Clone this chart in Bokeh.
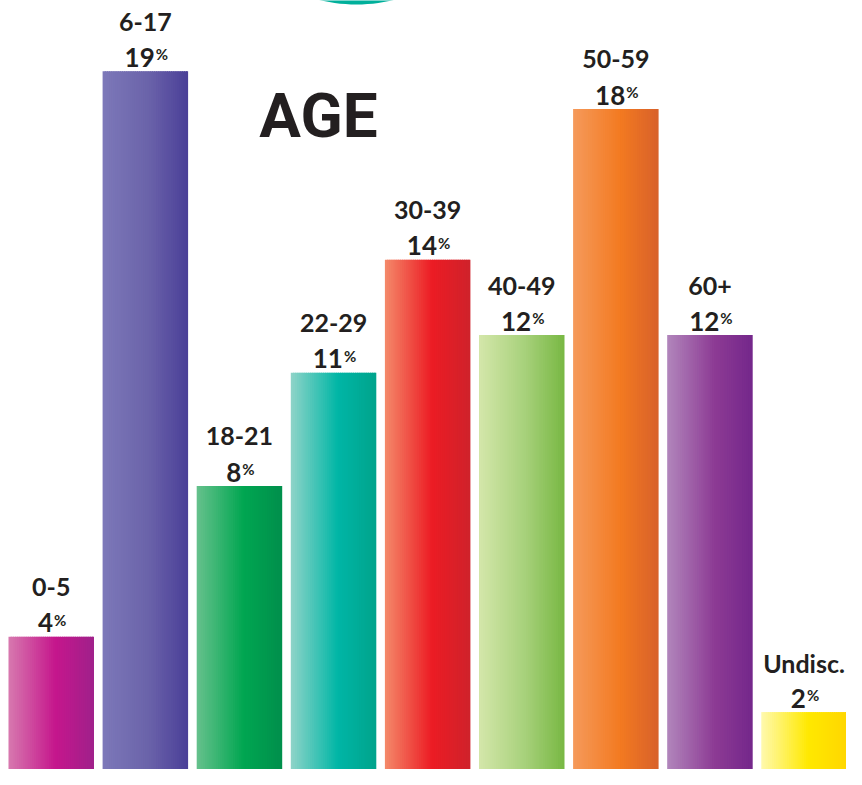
import math
from bokeh.plotting import figure
from bokeh.models import ColumnDataSource, Range1d
from bokeh.core.properties import value
from bokeh.embed import file_html
from bokeh.resources import INLINE

# ---- data ----
categories = ["0-5", "6-17", "18-21", "22-29", "30-39", "40-49", "50-59", "60+", "Undisc."]
percentages = [4, 19, 8, 11, 14, 12, 18, 12, 2]
title_text = "AGE"

# ---- styles ----
bar_gradients = [
    ("#D779AF", "#C5168C", "#A0218B"),
    ("#7D79B9", "#6A62A9", "#4A3F98"),
    ("#66C18C", "#00A651", "#008F4C"),
    ("#8FD4C8", "#00B6A6", "#00A38C"),
    ("#F4896A", "#EC1C24", "#CF222B"),
    ("#D4E7AA", "#A6D07A", "#78B843"),
    ("#F59A5B", "#F37A21", "#D8612A"),
    ("#B186BC", "#8D3B94", "#74278B"),
    ("#FFF9AE", "#FFE900", "#FFD600"),
]
TEXT_COLOR = "#231F20"
LABEL_FONT = value("Lato")
TITLE_FONT = value("Roboto")
BASE_FIX = 0.34  # compensation for baseline placement

W, H = 846, 769
PITCH = 94.1
BAR_PX = 85.5
FIRST_CENTER_PX = 8 + BAR_PX / 2
PX_PER_PCT = 37.7
ZERO_PX = 787  # pixel row of the 0 % line (below the visible area)

x0 = -FIRST_CENTER_PX / PITCH
x_range = Range1d(x0, x0 + W / PITCH)
y_range = Range1d((ZERO_PX - H) / PX_PER_PCT, ZERO_PX / PX_PER_PCT)


def px_to_x(px):
    return (px - FIRST_CENTER_PX) / PITCH


def px_to_y(py):
    return (ZERO_PX - py) / PX_PER_PCT


p = figure(width=W, height=H, x_range=x_range, y_range=y_range,
           output_backend="svg", toolbar_location=None,
           x_axis_location=None, y_axis_location=None,
           min_border=0, outline_line_color=None,
           background_fill_color="white", border_fill_color="white")
p.grid.visible = False


def hex2rgb(h):
    h = h.lstrip("#")
    return tuple(int(h[i:i + 2], 16) for i in (0, 2, 4))


def rgb2hex(c):
    return "#%02x%02x%02x" % tuple(int(round(v)) for v in c)


def grad(stops, t, mid=0.55):
    a, b, c = (hex2rgb(s) for s in stops)
    if t <= mid:
        u = t / mid
        return rgb2hex([a[i] + (b[i] - a[i]) * u for i in range(3)])
    u = (t - mid) / (1 - mid)
    return rgb2hex([b[i] + (c[i] - b[i]) * u for i in range(3)])


# decorative teal circle at top (only a sliver visible)
cx, cy, cr = 356, -153, 157
angles = [2 * math.pi * k / 180 for k in range(180)]
p.patch(x=[px_to_x(cx + cr * math.cos(a)) for a in angles],
        y=[px_to_y(cy + cr * math.sin(a)) for a in angles],
        fill_color="#00B09B", line_color=None)

# gradient bars built from strips
N = 40
bw = BAR_PX / PITCH
left, right, top, bottom, colors = [], [], [], [], []
for i, v in enumerate(percentages):
    L = i - bw / 2
    s = bw / N
    for k in range(N):
        l = L + k * s
        r = min(l + s * 1.6, L + bw)
        left.append(l)
        right.append(r)
        top.append(v)
        bottom.append(0)
        colors.append(grad(bar_gradients[i], (k + 0.5) / N))
p.quad(left=left, right=right, top=top, bottom=bottom,
       fill_color=colors, line_color=None)

idx = list(range(len(categories)))
nums = [str(v) for v in percentages]
lab_size = 25
num_size = 26
pct_size = 15
num_w = [len(s) * 0.58 * num_size for s in nums]
pct_w = 0.76 * pct_size
num_off = [w / 2 - pct_w / 2 for w in num_w]

src = ColumnDataSource(dict(x=idx, y=percentages, cat=categories, num=nums,
                            pct=["%"] * len(nums), noff=num_off,
                            poff=[o + 1 for o in num_off]))

p.text(x="x", y="y", text="cat", source=src, text_align="center",
       text_baseline="alphabetic", y_offset=-41 - BASE_FIX * lab_size,
       text_font=LABEL_FONT, text_font_style="bold",
       text_font_size=f"{lab_size}px", text_color=TEXT_COLOR)
p.text(x="x", y="y", text="num", source=src, text_align="right",
       text_baseline="alphabetic", x_offset="noff",
       y_offset=-5 - BASE_FIX * num_size,
       text_font=LABEL_FONT, text_font_style="bold",
       text_font_size=f"{num_size}px", text_color=TEXT_COLOR)
p.text(x="x", y="y", text="pct", source=src, text_align="left",
       text_baseline="alphabetic", x_offset="poff",
       y_offset=-12 - BASE_FIX * pct_size,
       text_font=LABEL_FONT, text_font_style="bold",
       text_font_size=f"{pct_size}px", text_color=TEXT_COLOR)

# title
title_size = 62
p.text(x=[px_to_x(318)], y=[px_to_y(136)], text=[title_text],
       text_align="center", text_baseline="alphabetic",
       y_offset=-BASE_FIX * title_size,
       text_font=TITLE_FONT,
       text_font_style="bold", text_font_size=f"{title_size}px",
       text_color=TEXT_COLOR)

open("out.html", "w").write(file_html(p, INLINE))
